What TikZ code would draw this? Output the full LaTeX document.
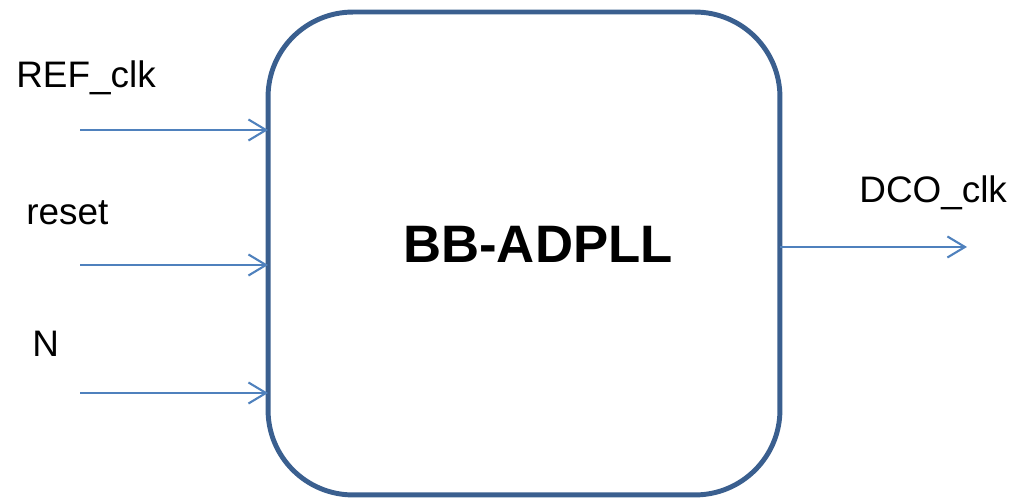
\documentclass[tikz,border=0pt]{standalone}
\usepackage{fontspec}
\setmainfont{Liberation Sans}
\usetikzlibrary{arrows.meta}

\definecolor{boxblue}{HTML}{3A5F8F}
\definecolor{wireblue}{HTML}{4F81BD}

\begin{document}
\begin{tikzpicture}[x=0.02cm, y=0.02cm]

% Keep the page at the size of the reference
\useasboundingbox (0,0) rectangle (1014,499);

% Define styles for the block, the wires and the labels
\tikzstyle{block} = [draw=boxblue, line width=2.8pt, rounded corners=1.7cm,
                     minimum width=10.24cm, minimum height=9.66cm, outer sep=0pt]
\tikzstyle{wire} = [draw=wireblue, line width=1.2pt,
                    -{Straight Barb[length=10pt, width=12pt, line width=1.2pt]}]
\tikzstyle{pin} = [anchor=base west, inner sep=0pt, font=\fontsize{21}{25}\selectfont]

% The block itself
\node[block] (pll) at (524,245.5) {};
\node[anchor=base, inner sep=0pt, font=\fontsize{30}{34}\selectfont\bfseries]
    (title) at (538,236) {BB-ADPLL};

% Inputs
\coordinate (ref) at (80,369);
\coordinate (rst) at (80,234);
\coordinate (n) at (80,106);
\draw[wire] (ref) -- (ref -| pll.west);
\draw[wire] (rst) -- (rst -| pll.west);
\draw[wire] (n) -- (n -| pll.west);

\node[pin] (reflabel) at (16,411) {REF\_clk};
\node[pin] (rstlabel) at (26,274) {reset};
\node[pin] (nlabel) at (32,142) {N};

% Output
\coordinate (dco) at (967,252);
\draw[wire] (dco -| pll.east) -- (dco);
\node[pin] (dcolabel) at (859,296) {DCO\_clk};

\end{tikzpicture}
\end{document}
